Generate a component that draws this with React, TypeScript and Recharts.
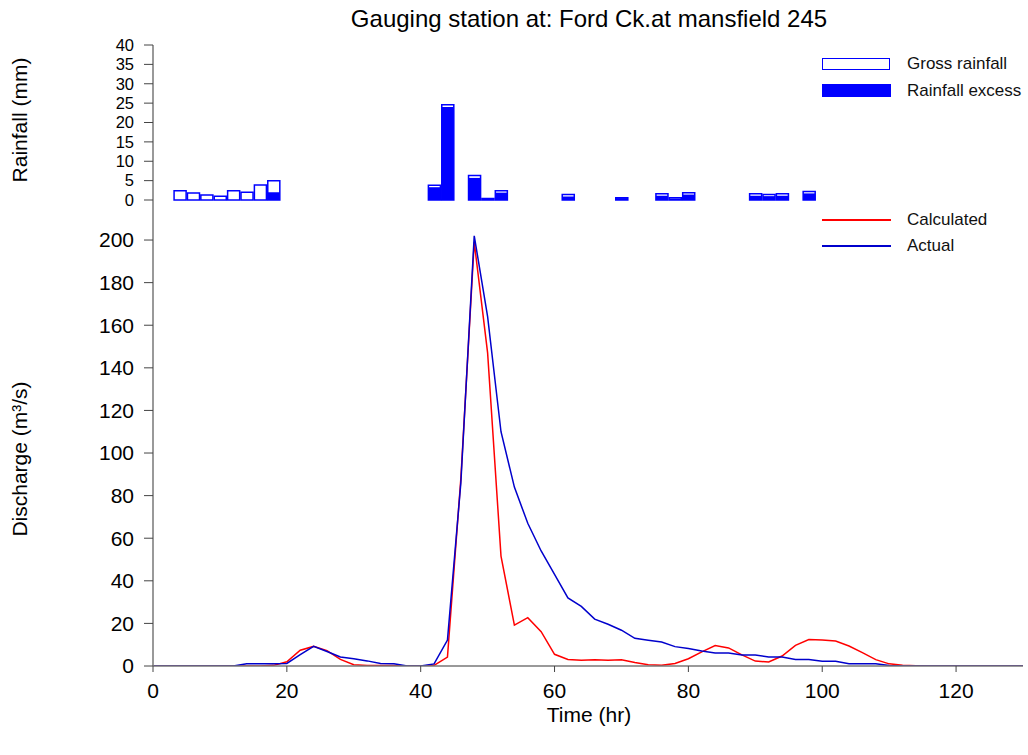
import React from 'react';
import { ComposedChart, LineChart, Bar, Line, XAxis, YAxis, Legend } from 'recharts';

const FONT = '"Liberation Sans", Arial, Helvetica, sans-serif';

// ---------- Rainfall (mm), bars centred on the hour ----------
const rainHours = [4, 6, 8, 10, 12, 14, 16, 18, 42, 44, 48, 50, 52, 62, 70, 76, 78, 80, 90, 92, 94, 98];
const grossRain = [2.4, 1.8, 1.3, 0.95, 2.4, 2.0, 3.9, 5.0, 3.8, 24.6, 6.3, 0.4, 2.4, 1.4, 0.6, 1.6, 0.6, 1.9, 1.6, 1.4, 1.6, 2.2];
const excessRain = [0, 0, 0, 0, 0, 0, 0, 2.0, 3.3, 24.0, 5.7, 0.3, 1.9, 0.9, 0.5, 1.1, 0.4, 1.4, 1.1, 1.0, 1.1, 1.7];
const rainTicks = [0, 5, 10, 15, 20, 25, 30, 35, 40];

// ---------- Discharge (m3/s), every 2 hours ----------
const flowHours = [
  0, 2, 4, 6, 8, 10, 12, 14, 16, 18, 20, 22, 24, 26, 28, 30, 32, 34, 36, 38,
  40, 42, 44, 46, 48, 50, 52, 54, 56, 58, 60, 62, 64, 66, 68, 70, 72, 74, 76, 78,
  80, 82, 84, 86, 88, 90, 92, 94, 96, 98, 100, 102, 104, 106, 108, 110, 112, 114, 116, 118,
  120, 122, 124, 126, 128, 130,
];
const calculated = [
  0, 0, 0, 0, 0, 0, 0, 0, 0, 0.3, 2.0, 7.4, 9.2, 7.2, 3.1, 0.6, 0.2, 0.2, 0.2, 0,
  0, 0.3, 4.2, 88, 199, 147, 51.6, 19.2, 22.7, 16.1, 5.5, 3.1, 2.7, 2.9, 2.7, 2.9, 1.6, 0.6, 0.3, 1.2,
  3.4, 6.6, 9.6, 8.5, 5.2, 2.3, 1.9, 4.7, 9.7, 12.4, 12.2, 11.7, 9.4, 6.3, 3.0, 1.0, 0.3, 0.1, 0, 0,
  0, 0, 0, 0, 0, 0,
];
const actual = [
  0, 0, 0, 0, 0, 0, 0, 1.0, 1.0, 1.0, 1.2, 5.3, 9.2, 6.8, 4.2, 3.4, 2.4, 1.2, 1.0, 0,
  0, 1.0, 12.2, 86, 202, 164, 110, 84, 67, 54, 43, 32, 28, 22, 19.6, 16.8, 13.0, 12.1, 11.3, 9.1,
  8.2, 7.0, 6.1, 6.1, 5.2, 5.2, 4.2, 4.2, 3.1, 3.1, 2.2, 2.2, 1.1, 1.1, 1.0, 0.2, 0, 0, 0, 0,
  0, 0, 0, 0, 0, 0,
];
const timeTicks = [0, 20, 40, 60, 80, 100, 120];
const flowTicks = [0, 20, 40, 60, 80, 100, 120, 140, 160, 180, 200];

const rainRows = rainHours.map((t, i) => ({ t, gross: grossRain[i], excess: excessRain[i] }));
const flowRows = flowHours.map((t, i) => ({ t, calc: calculated[i], actual: actual[i] }));

const legendOrder = ['Gross rainfall', 'Rainfall excess', 'Calculated', 'Actual'];

const Swatch = ({ kind, color }: { kind: string; color: string }) => {
  if (kind === 'gross')
    return <div style={{ width: 66, height: 10, border: '1.5px solid #0000ff', background: '#fff' }} />;
  if (kind === 'excess') return <div style={{ width: 69, height: 13, background: '#0000ff' }} />;
  return <div style={{ width: 69, height: 0, borderTop: `2px solid ${color}` }} />;
};

const makeLegend = (rowH: number) => (props: any) => {
  const payload = [...(props.payload || [])].sort(
    (a: any, b: any) => legendOrder.indexOf(a.value) - legendOrder.indexOf(b.value)
  );
  return (
    <div style={{ fontFamily: FONT, fontSize: 17, color: '#111' }}>
      {payload.map((e: any) => (
        <div key={e.value} style={{ display: 'flex', alignItems: 'center', height: rowH }}>
          <div style={{ width: 69, display: 'flex', alignItems: 'center' }}>
            <Swatch kind={e.dataKey} color={e.color} />
          </div>
          <span style={{ marginLeft: 16, whiteSpace: 'nowrap' }}>{e.value}</span>
        </div>
      ))}
    </div>
  );
};

const axisGray = '#777';

export default function App() {
  return (
    <div style={{ position: 'absolute', left: 0, top: 0, width: 1028, height: 755, background: '#fff', fontFamily: FONT }}>
      {/* Discharge chart */}
      <div style={{ position: 'absolute', left: 0, top: 0 }}>
        <LineChart width={1028} height={755} data={flowRows} margin={{ top: 200, right: 5, left: 73, bottom: 49 }}>
          <XAxis
            dataKey="t"
            type="number"
            domain={[0, 130]}
            ticks={timeTicks}
            interval={0}
            height={40}
            tickSize={6}
            tickMargin={11}
            axisLine={{ stroke: axisGray, strokeWidth: 1.5 }}
            tickLine={{ stroke: '#444' }}
            tick={{ fontSize: 21, fill: '#000', fontFamily: FONT }}
            allowDataOverflow
          />
          <YAxis
            type="number"
            domain={[0, 218.8]}
            ticks={flowTicks}
            interval={0}
            width={80}
            tickSize={9}
            tickMargin={10}
            axisLine={{ stroke: axisGray, strokeWidth: 1.5 }}
            tickLine={{ stroke: '#444' }}
            tick={{ fontSize: 21, fill: '#000', fontFamily: FONT }}
            allowDataOverflow
          />
          <Legend
            layout="vertical"
            align="center"
            verticalAlign="middle"
            wrapperStyle={{ top: 207, left: 822, width: 200 }}
            content={makeLegend(26)}
          />
          <Line
            dataKey="calc"
            name="Calculated"
            stroke="#ff0000"
            strokeWidth={1.5}
            dot={false}
            isAnimationActive={false}
          />
          <Line
            dataKey="actual"
            name="Actual"
            stroke="#0000cc"
            strokeWidth={1.5}
            dot={false}
            isAnimationActive={false}
          />
        </LineChart>
      </div>

      {/* Rainfall chart */}
      <div style={{ position: 'absolute', left: 0, top: 0 }}>
        <ComposedChart width={1028} height={215} data={rainRows} margin={{ top: 45, right: 5, left: 73, bottom: 15 }}>
          <XAxis
            xAxisId="g"
            dataKey="t"
            type="number"
            domain={[0, 130]}
            height={0}
            tick={false}
            tickLine={false}
            axisLine={{ stroke: '#000', strokeWidth: 1.5 }}
            allowDataOverflow
          />
          <XAxis xAxisId="e" dataKey="t" type="number" domain={[0, 130]} hide allowDataOverflow />
          <YAxis
            type="number"
            domain={[0, 40]}
            ticks={rainTicks}
            interval={0}
            width={80}
            tickSize={9}
            tickMargin={10}
            axisLine={{ stroke: axisGray, strokeWidth: 1.5 }}
            tickLine={{ stroke: '#444' }}
            tick={{ fontSize: 16.5, fill: '#000', fontFamily: FONT }}
          />
          <Legend
            layout="vertical"
            align="center"
            verticalAlign="middle"
            wrapperStyle={{ top: 50, left: 822, width: 200 }}
            content={makeLegend(27)}
          />
          <Bar
            xAxisId="g"
            dataKey="gross"
            name="Gross rainfall"
            barSize={13.4}
            fill="#ffffff"
            stroke="#0000ff"
            strokeWidth={1.5}
            isAnimationActive={false}
          />
          <Bar
            xAxisId="e"
            dataKey="excess"
            name="Rainfall excess"
            barSize={12}
            fill="#0000ff"
            isAnimationActive={false}
          />
        </ComposedChart>
      </div>

      {/* Titles and axis labels */}
      <svg width={1028} height={755} style={{ position: 'absolute', left: 0, top: 0, pointerEvents: 'none' }}>
        <text x={589} y={27} textAnchor="middle" fontSize={24} fontFamily={FONT} fill="#000">
          Gauging station at: Ford Ck.at mansfield 245
        </text>
        <text x={589} y={722} textAnchor="middle" fontSize={21} fontFamily={FONT} fill="#000">
          Time (hr)
        </text>
        <text x={27} y={120} transform="rotate(-90 27 120)" textAnchor="middle" fontSize={21} fontFamily={FONT} fill="#000">
          Rainfall (mm)
        </text>
        <text x={27} y={459} transform="rotate(-90 27 459)" textAnchor="middle" fontSize={21} fontFamily={FONT} fill="#000">
          Discharge (m³/s)
        </text>
      </svg>
    </div>
  );
}
